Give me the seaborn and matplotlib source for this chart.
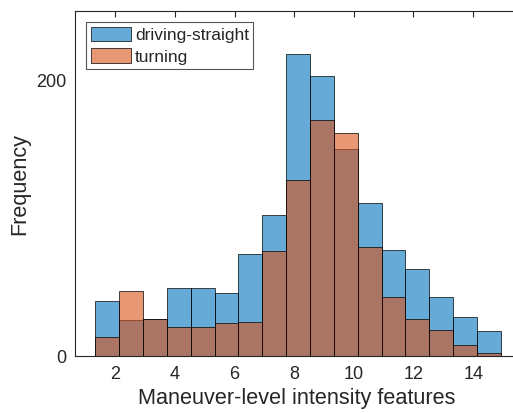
import numpy as np
import pandas as pd
import matplotlib
matplotlib.use("Agg")
import matplotlib.pyplot as plt
import seaborn as sns

# Histogram bins (shared by both groups)
bin_start = 1.33
bin_width = 0.8
n_bins = 17
bin_edges = list(bin_start + bin_width * np.arange(n_bins + 1))
bin_centers = [(a + b) / 2 for a, b in zip(bin_edges[:-1], bin_edges[1:])]

# Counts per bin
straight_counts = [40, 26, 27, 49, 49, 46, 74, 102, 219, 203, 150, 111, 77, 63, 43, 28, 18]
turning_counts = [14, 47, 27, 21, 21, 24, 25, 76, 128, 171, 162, 79, 43, 27, 19, 8, 2]

series_names = ["driving-straight", "turning"]
series_colors = [(0.0, 0.447, 0.741), (0.85, 0.325, 0.098)]

x_ticks = [2, 4, 6, 8, 10, 12, 14]
y_ticks = [0, 200]

sns.set_theme(style="white")
plt.rcParams["font.family"] = ["Liberation Sans", "DejaVu Sans"]
axis_color = "#262626"

fig = plt.figure(figsize=(5.13, 4.13), dpi=100)
# the axes box runs slightly past the right edge of the figure
ax = fig.add_axes([0.1468, 0.138, 0.865, 0.8346])

for name, counts, color in zip(series_names, [straight_counts, turning_counts], series_colors):
    df = pd.DataFrame({"value": bin_centers, "count": counts})
    sns.histplot(data=df, x="value", weights="count", bins=bin_edges, ax=ax,
                 color=color, alpha=0.6, edgecolor="black", linewidth=0.5,
                 label=name)

ax.set_xlim(0.658, 15.54)
ax.set_ylim(0, 250)
ax.set_xticks(x_ticks)
ax.set_yticks(y_ticks)

for side in ["left", "bottom", "top"]:
    ax.spines[side].set_visible(True)
    ax.spines[side].set_color(axis_color)
    ax.spines[side].set_linewidth(0.8)
ax.spines["right"].set_visible(False)

ax.tick_params(axis="both", direction="in", length=4, width=0.8, color=axis_color,
               labelcolor=axis_color, labelsize=13, top=True, right=False)
ax.tick_params(axis="x", pad=7.5)
ax.tick_params(axis="y", pad=6.5)

ax.set_xlabel("Maneuver-level intensity features", fontsize=15.6, color=axis_color, labelpad=3.5)
ax.set_ylabel("Frequency", fontsize=15.6, color=axis_color, labelpad=4)

leg = ax.legend(loc="upper left", fontsize=12.5, frameon=True, fancybox=False,
                handlelength=2.3, handleheight=0.9, handletextpad=0.25,
                borderpad=0.24, borderaxespad=0.64, labelspacing=0.32)
leg.get_frame().set_edgecolor("#555555")
leg.get_frame().set_linewidth(0.8)
leg.get_frame().set_alpha(1)

fig.savefig("out.png", dpi=100)
